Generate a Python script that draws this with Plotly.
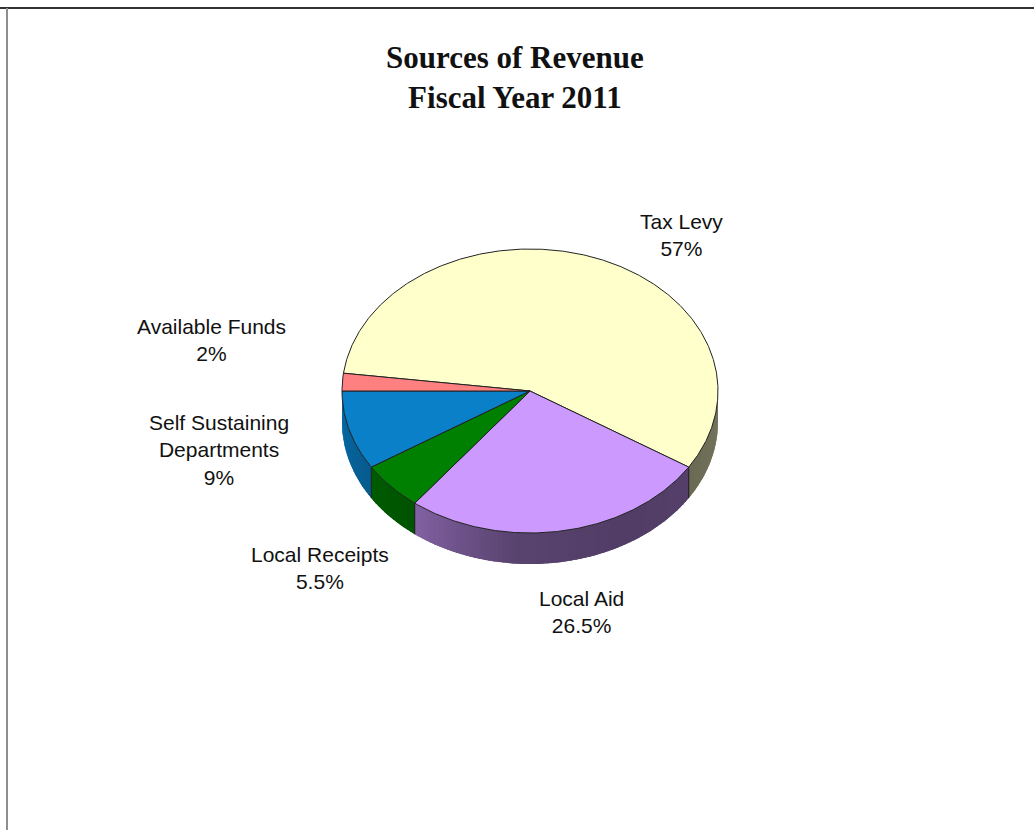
import numpy as np
import plotly.graph_objects as go

# ---- data ----
categories = ["Tax Levy", "Local Aid", "Local Receipts",
              "Self Sustaining Departments", "Available Funds"]
label_names = ["Tax Levy", "Local Aid", "Local Receipts",
               "Self Sustaining<br>Departments", "Available Funds"]
shares = [57, 26.5, 5.5, 9, 2]
title_lines = ["Sources of Revenue", "Fiscal Year 2011"]

# ---- styles / layout ----
top_colors = ["#FFFFCC", "#CC99FF", "#008000", "#0A80C8", "#FF8080"]
W, H = 1034, 830
CX, CY, RX, RY, DEPTH = 530, 391, 188, 142, 31   # tilted pie in pixel space
START_ANGLE = 172.8                              # first slice edge, degrees ccw from +x
label_pos = [(681, 235), (581, 612), (320, 568), (219, 450), (211, 340)]

# side-wall shading along the front rim (angle in [-180, 0] -> brightness factor)
shade_angles = [-180, -150, -130, -115, -95, -60, -30, 0]
shade_vals = [0.84, 0.72, 0.66, 0.56, 0.44, 0.40, 0.42, 0.47]


def rim(theta_deg, drop=0.0):
    t = np.radians(theta_deg)
    return CX + RX * np.cos(t), CY - RY * np.sin(t) + drop


def hex_to_rgb(h):
    h = h.lstrip("#")
    return tuple(int(h[i:i + 2], 16) for i in (0, 2, 4))


def shaded(h, f):
    r, g, b = hex_to_rgb(h)
    return "rgb({},{},{})".format(int(r * f), int(g * f), int(b * f))


def wall(t0, t1, npts):
    ts = np.linspace(t0, t1, npts)
    xt, yt = rim(ts)
    xb, yb = rim(ts[::-1], DEPTH)
    return np.concatenate([xt, xb, xt[:1]]), np.concatenate([yt, yb, yt[:1]])


fig = go.Figure()

# slice angle ranges, clockwise from START_ANGLE
total = float(sum(shares))
edges = [START_ANGLE]
for v in shares:
    edges.append(edges[-1] - v / total * 360.0)

# ---- side walls (front half only) ----
boundary_angles = []
for i, v in enumerate(shares):
    a_hi, a_lo = edges[i], edges[i + 1]
    for k in (-1, 0, 1):
        lo_vis, hi_vis = -180 + 360 * k, 0 + 360 * k
        lo = max(a_lo, lo_vis)
        hi = min(a_hi, hi_vis)
        if hi - lo <= 0.01:
            continue
        # solid base wall so the shading strips leave no seams
        base_col = shaded(top_colors[i], float(np.interp(0.5 * (lo + hi) - 360 * k,
                                                         shade_angles, shade_vals)))
        bx, by = wall(lo, hi, max(8, int((hi - lo) * 2)))
        fig.add_trace(go.Scatter(x=bx, y=by, mode="lines", fill="toself",
                                 fillcolor=base_col, line=dict(width=0),
                                 hoverinfo="skip", showlegend=False))
        n = max(2, int(np.ceil((hi - lo) / 1.5)))
        steps = np.linspace(lo, hi, n + 1)
        for s0, s1 in zip(steps[:-1], steps[1:]):
            sx, sy = wall(s0 - 0.3 if s0 > lo else s0, s1, 5)
            mid = 0.5 * (s0 + s1) - 360 * k
            col = shaded(top_colors[i], float(np.interp(mid, shade_angles, shade_vals)))
            fig.add_trace(go.Scatter(
                x=sx, y=sy, mode="lines", fill="toself", fillcolor=col,
                line=dict(width=0), hoverinfo="skip", showlegend=False))
        for a in (lo, hi):
            if lo_vis + 0.01 < a < hi_vis - 0.01:
                boundary_angles.append(a)

# dark edges where slices meet on the side wall
for a in sorted(set(np.round(boundary_angles, 4))):
    x0, y0 = rim(a)
    x1, y1 = rim(a, DEPTH)
    fig.add_trace(go.Scatter(x=[x0, x1], y=[y0, y1], mode="lines",
                             line=dict(color="#1e1e1e", width=1),
                             hoverinfo="skip", showlegend=False))

# ---- top faces ----
for i, v in enumerate(shares):
    a_hi, a_lo = edges[i], edges[i + 1]
    ts = np.linspace(a_hi, a_lo, max(8, int(abs(a_hi - a_lo) * 2)))
    xa, ya = rim(ts)
    fig.add_trace(go.Scatter(
        x=np.concatenate([[CX], xa, [CX]]),
        y=np.concatenate([[CY], ya, [CY]]),
        mode="lines", fill="toself", fillcolor=top_colors[i],
        line=dict(color="#222222", width=1),
        hoveron="fills", name=categories[i],
        text="{}: {:g}%".format(categories[i], v), hoverinfo="text",
        showlegend=False))

# ---- data labels ----
for name, v, (lx, ly) in zip(label_names, shares, label_pos):
    fig.add_annotation(x=lx, y=ly, xref="x", yref="y",
                       text="{}<br>{:g}%".format(name, v), showarrow=False,
                       xanchor="center", yanchor="middle", align="center",
                       font=dict(family="Liberation Sans, Arial, sans-serif",
                                 size=21, color="#111111"))

# ---- title ----
fig.add_annotation(x=515, y=77, xref="x", yref="y",
                   text="<b>{}</b><br><b>{}</b>".format(*title_lines),
                   showarrow=False, xanchor="center", yanchor="middle",
                   align="center",
                   font=dict(family="Liberation Serif, Times New Roman, serif",
                             size=31, color="#111111"))

# ---- frame lines (top and left) ----
fig.add_shape(type="line", xref="x", yref="y", x0=0, x1=W, y0=8, y1=8,
              line=dict(color="#333333", width=2))
fig.add_shape(type="line", xref="x", yref="y", x0=7, x1=7, y0=8, y1=H,
              line=dict(color="#8e8e8e", width=2))

fig.update_layout(
    width=W, height=H,
    margin=dict(l=0, r=0, t=0, b=0),
    paper_bgcolor="white", plot_bgcolor="white",
    xaxis=dict(range=[0, W], visible=False, fixedrange=True),
    yaxis=dict(range=[H, 0], visible=False, fixedrange=True),
    showlegend=False,
)

fig.write_html("out.html")
